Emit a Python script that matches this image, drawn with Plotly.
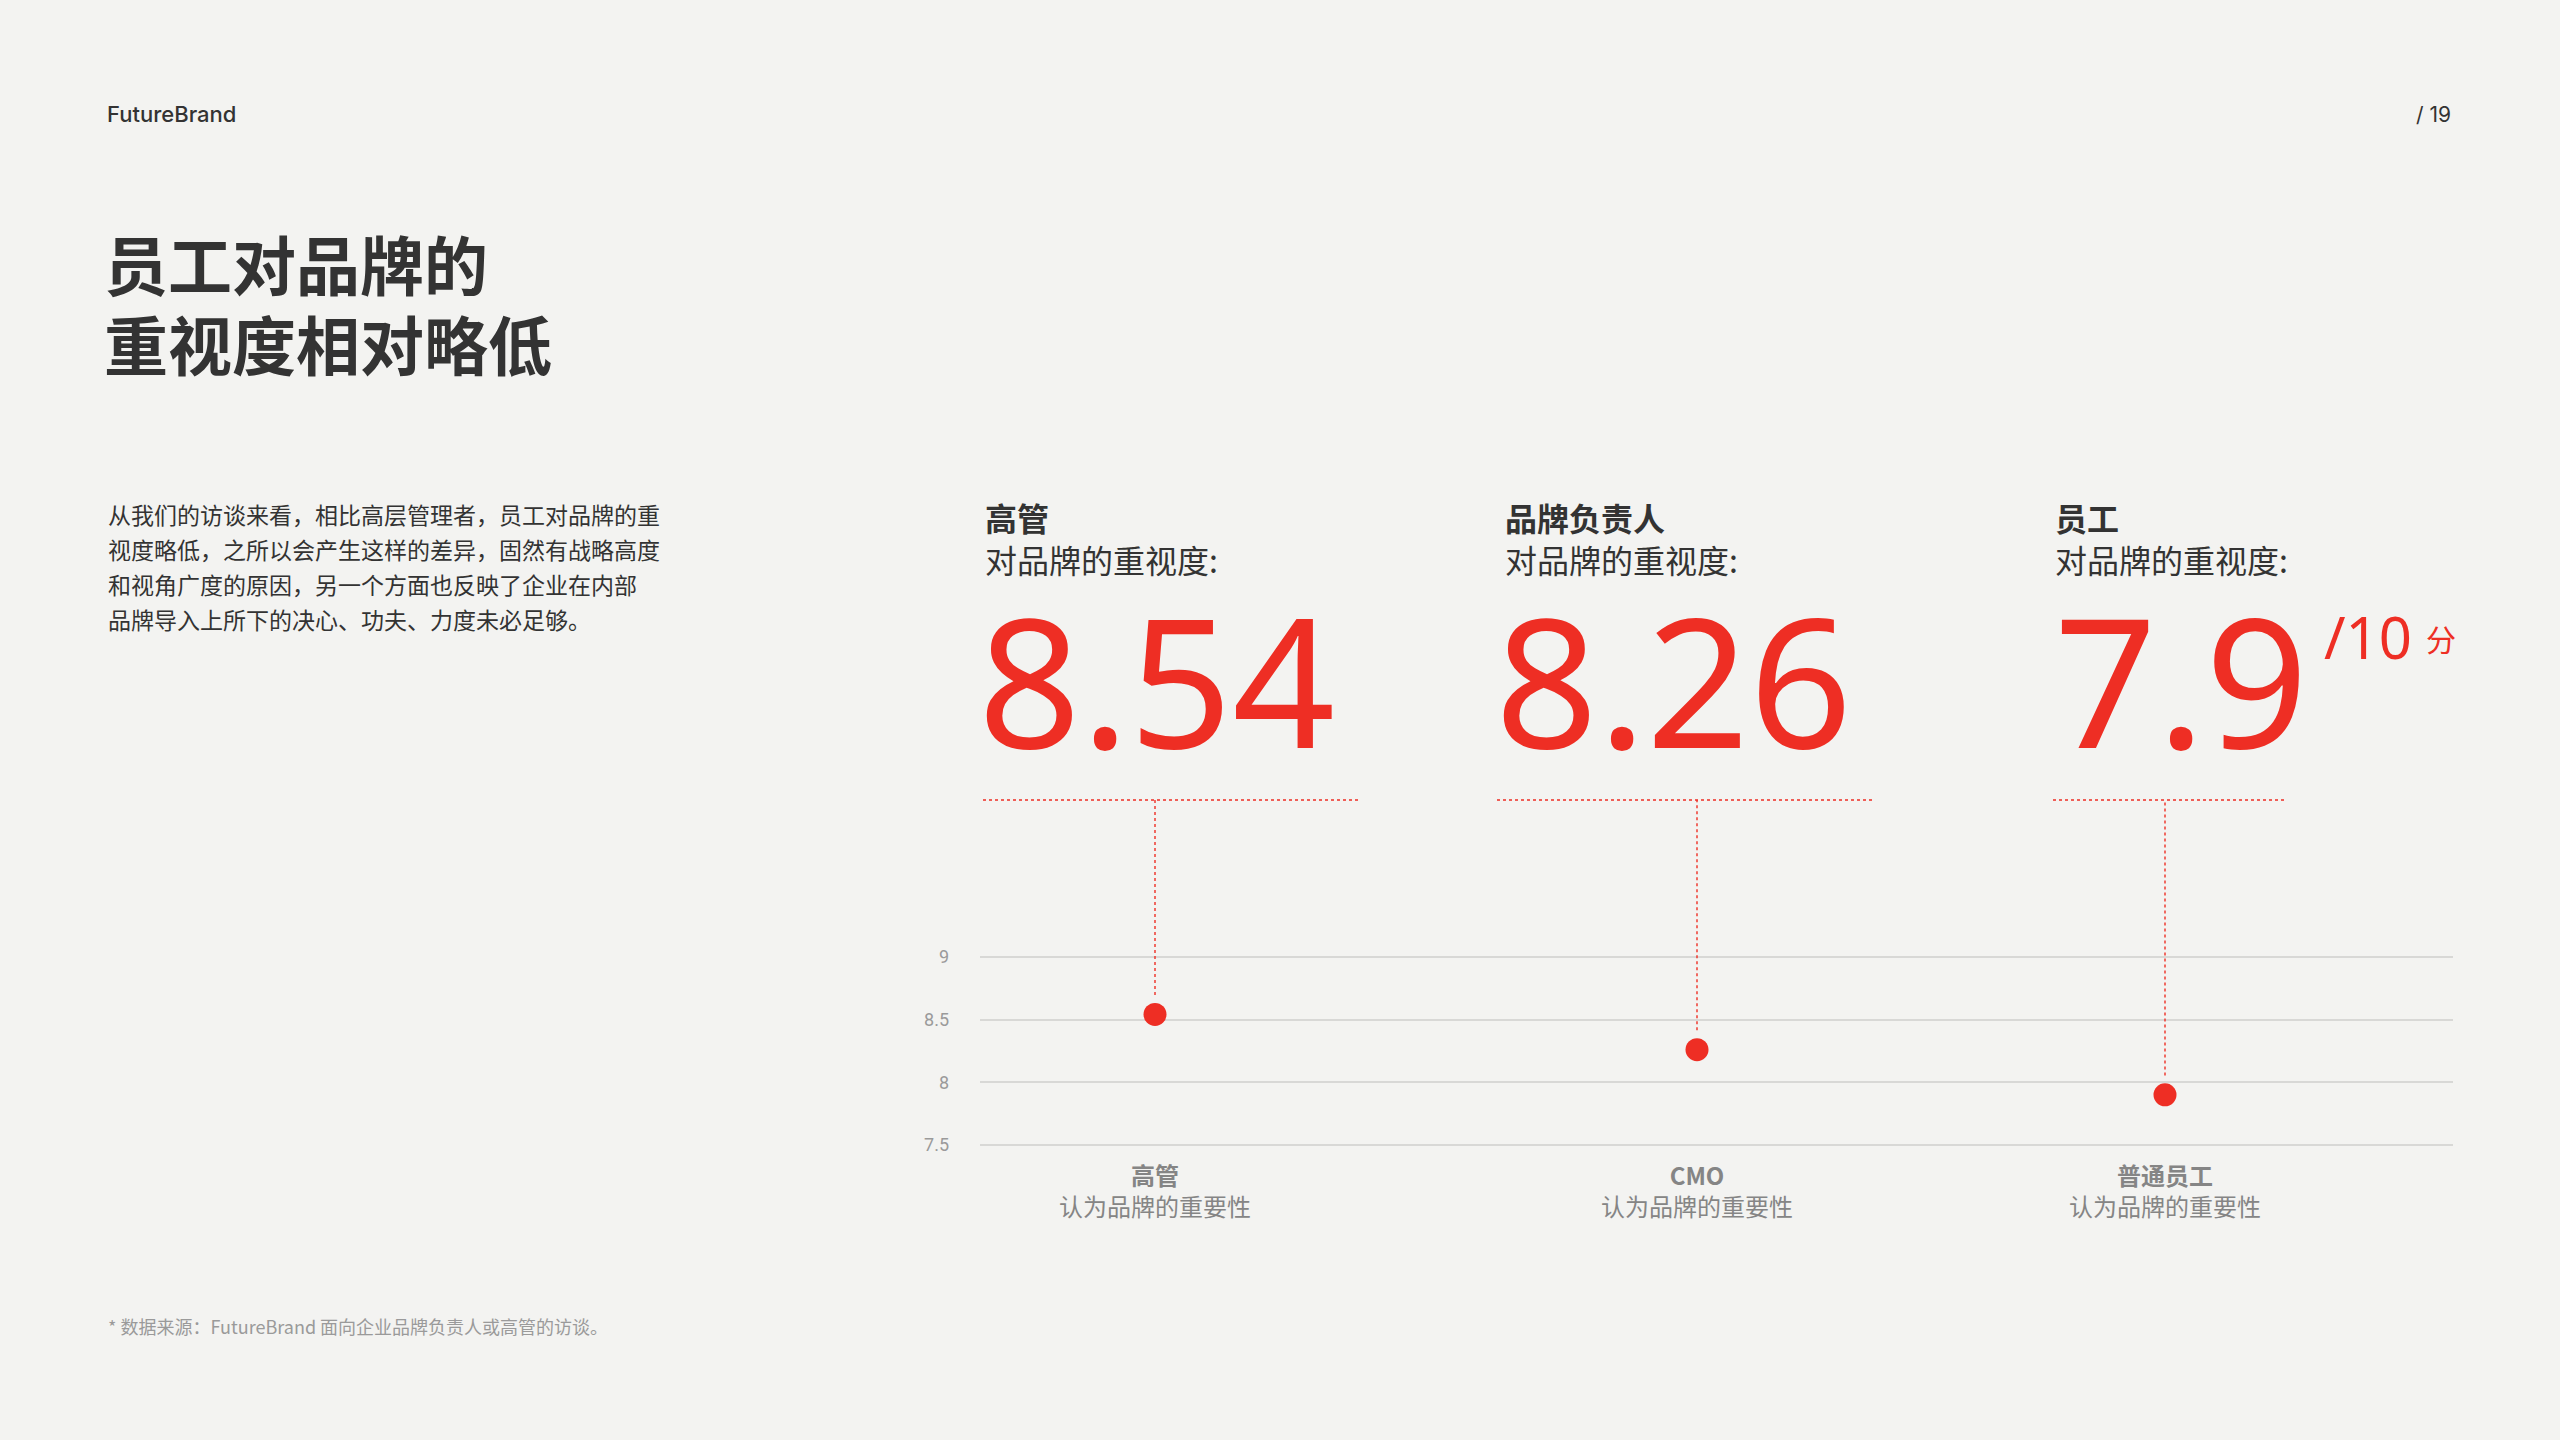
import plotly.graph_objects as go

# ---------------- data ----------------
groups = ["高管", "CMO", "普通员工"]
scores = [8.54, 8.26, 7.9]
axis_sub_label = "认为品牌的重要性"
header_roles = ["高管", "品牌负责人", "员工"]
header_sub = "对品牌的重视度:"
y_ticks = [7.5, 8, 8.5, 9]
y_tick_labels = ["7.5", "8", "8.5", "9"]
title_lines = ["员工对品牌的", "重视度相对略低"]
para_lines = [
    "从我们的访谈来看，相比高层管理者，员工对品牌的重",
    "视度略低，之所以会产生这样的差异，固然有战略高度",
    "和视角广度的原因，另一个方面也反映了企业在内部",
    "品牌导入上所下的决心、功夫、力度未必足够。",
]
brand = "FutureBrand"
page_no = "/ 19"
scale_max = "/10"
scale_unit = "分"
footnote = "* 数据来源：FutureBrand 面向企业品牌负责人或高管的访谈。"

# ---------------- layout constants ----------------
W, H = 2560, 1440
PL, PR, PT, PB = 980, 2453, 800, 1150
PW, PH = PR - PL, PB - PT
RED = "#ee2e24"
DARK = "#333333"
BG = "#f3f3f1"
CJK = "Noto Sans CJK SC"

# x positions of the three groups on a numeric axis (pixel-calibrated)
X_UNIT = 542.0
X0_PX = 1155.0
X_POS = [0.0, 1.0, (2165.0 - X0_PX) / X_UNIT]
x_range = [(PL - X0_PX) / X_UNIT, (PR - X0_PX) / X_UNIT]

Y_UNIT = 125.6
Y9_PX = 956.7
y_range = [9 - (PB - Y9_PX) / Y_UNIT, 9 + (Y9_PX - PT) / Y_UNIT]


def px(x, y):
    return (x - PL) / PW, (PB - y) / PH


annotations = []


def ann(text, x, y, size, color=DARK, weight=400, xanchor="left", family=CJK,
        yanchor="middle", height=None):
    ax, ay = px(x, y)
    a = dict(
        text=text, x=ax, y=ay, xref="paper", yref="paper",
        xanchor=xanchor, yanchor=yanchor, showarrow=False, align="left",
        font=dict(size=size, color=color, family=family, weight=weight),
    )
    if height is not None:
        a["height"] = height
        a["valign"] = "middle"
    annotations.append(a)


fig = go.Figure()

# dotted leader lines from header down to each point
for xp, s in zip(X_POS, scores):
    fig.add_trace(go.Scatter(
        x=[xp, xp], y=[s + 0.155, y_range[1]], mode="lines",
        line=dict(color=RED, width=1.4, dash="dot"),
        hoverinfo="skip", showlegend=False,
    ))

# the points
fig.add_trace(go.Scatter(
    x=X_POS, y=scores, mode="markers",
    marker=dict(size=23, color=RED, line=dict(width=0)),
    showlegend=False, cliponaxis=False,
))

# header underline dotted rules
shapes = []
for x0, x1 in [(983, 1360), (1497, 1875), (2053, 2285)]:
    a0, _ = px(x0, PT)
    a1, _ = px(x1, PT)
    shapes.append(dict(type="line", xref="paper", yref="paper", x0=a0, x1=a1, y0=1, y1=1,
                       line=dict(color=RED, width=1.4, dash="dot")))

# text blocks
ann(brand, 105, 114, 22, DARK, 500, family="Inter")
ann(page_no, 2453, 114, 21, DARK, 400, xanchor="right", family="Inter")
for i, t in enumerate(title_lines):
    ann(t, 102, 262 + 80 * i, 64, DARK, 700)
for i, t in enumerate(para_lines):
    ann(t, 106, 514 + 35 * i, 23, DARK, 400)

head_x = [983, 1503, 2053]
num_x = [976, 1493, 2052]
for hx, nx, role, s in zip(head_x, num_x, header_roles, scores):
    ann(f"<b>{role}</b><br>{header_sub}", hx, 538, 32, DARK, 400)
    ann(f"{s:g}", nx, 678, 180, RED, 400, family="Noto Sans", height=170)

ann(scale_max, 2322, 636, 58, RED, 400, family="Noto Sans")
ann(scale_unit, 2424, 638, 30, RED, 400)
ann(footnote, 106, 1326, 18, "#9a9a9a", 400)

fig.update_layout(
    width=W, height=H,
    paper_bgcolor=BG, plot_bgcolor=BG,
    margin=dict(l=PL, r=W - PR, t=PT, b=H - PB, pad=0),
    xaxis=dict(
        range=x_range, tickvals=X_POS,
        ticktext=[f"<b>{g}</b><br>{axis_sub_label}" for g in groups],
        showgrid=False, zeroline=False, showline=False, ticks="",
        tickfont=dict(size=24, color="#858585", family=CJK),
        ticklabelstandoff=10, automargin=False, fixedrange=True,
    ),
    yaxis=dict(
        range=y_range, tickvals=y_ticks, ticktext=y_tick_labels,
        showgrid=True, gridcolor="#d8d8d6", gridwidth=1.5,
        zeroline=False, showline=False, ticks="",
        tickfont=dict(size=18, color="#9a9a9a", family="Roboto"),
        ticklabelstandoff=30, automargin=False, fixedrange=True,
    ),
    shapes=shapes,
    annotations=annotations,
    showlegend=False,
)

fig.write_html(
    "out.html",
    config={"displayModeBar": False},
    post_script="document.body.style.margin='0';document.body.style.overflow='hidden';",
)
